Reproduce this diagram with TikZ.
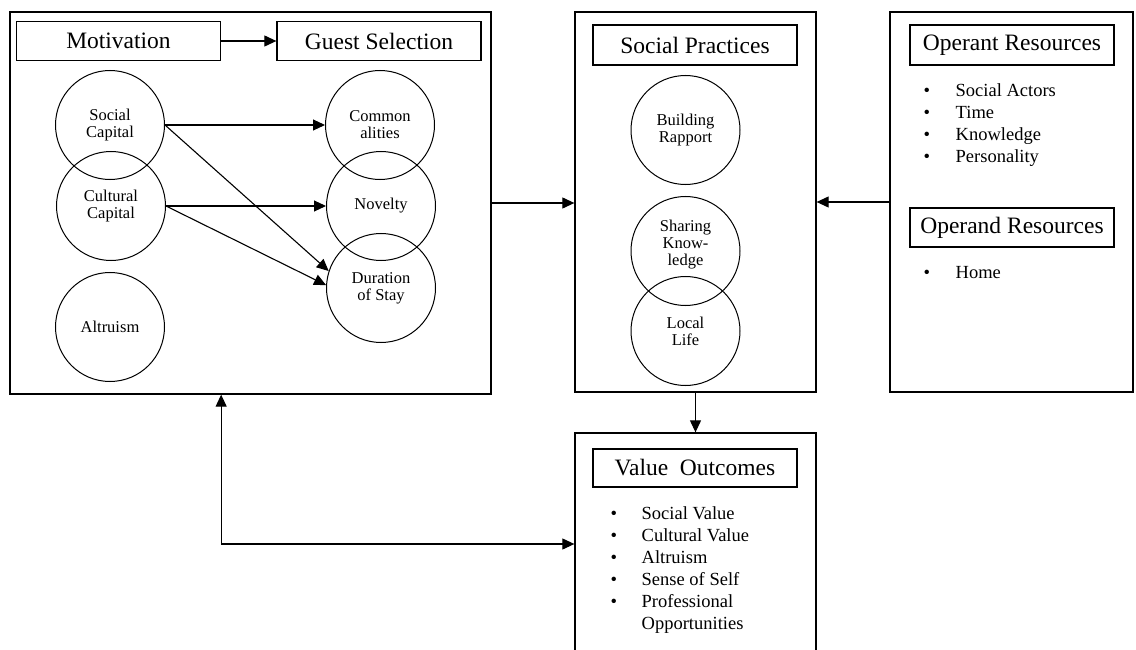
\documentclass[tikz,border=0pt]{standalone}
\usepackage{fontspec}
\setmainfont{Liberation Serif}
\usetikzlibrary{arrows.meta, positioning}

\begin{document}
\begin{tikzpicture}[x=1pt, y=-1pt,
  panel/.style={rectangle, draw, line width=1.3pt, inner sep=0pt},
  heading/.style={rectangle, draw, line width=1.3pt, minimum width=204pt, minimum height=39pt, inner sep=0pt, font=\fontsize{23.5}{28}\selectfont},
  concept/.style={circle, draw, line width=1pt, minimum size=109pt, inner sep=0pt, align=center, font=\fontsize{16.5}{17}\selectfont},
  item/.style={anchor=base west, inner sep=0pt, font=\fontsize{18.5}{22}\selectfont},
  arrow/.style={-{Triangle[length=12pt, width=11pt]}, line width=1.1pt},
  twoway/.style={{Triangle[length=12pt, width=11pt]}-{Triangle[length=12pt, width=11pt]}, line width=1.1pt}
]
  \clip (0,0) rectangle (1136,650);

  \node[panel, minimum width=481pt, minimum height=382pt] (left) at (250.5,203) {};
  \node[panel, minimum width=241pt, minimum height=380pt] (practices) at (695.5,202) {};
  \node[panel, minimum width=243pt, minimum height=380pt] (resources) at (1011.5,202) {};
  \node[panel, minimum width=241pt, minimum height=222pt] (outcomes) at (695.5,544) {};

  \node[heading] (motivation) at (118.5,41) {Motivation};
  \node[heading] (guestsel) at (379,41) {Guest Selection};
  \draw[arrow] (motivation) -- (guestsel);

  \node[concept] (social) at (110,125) {Social\\Capital};
  \node[concept] (cultural) at (111,206) {Cultural\\Capital};
  \node[concept] (altruism) at (110,327) {Altruism};
  \node[concept] (common) at (380,125) {Common\\alities};
  \node[concept] (novelty) at (381,206) {Novelty};
  \node[concept] (duration) at (381,288) {Duration\\of Stay};

  \draw[arrow] (social) -- (common);
  \draw[arrow] (social.east) -- (duration.162);
  \draw[arrow] (cultural) -- (novelty);
  \draw[arrow] (cultural.east) -- (duration.177);

  \node[heading, minimum height=40pt] (practhead) at (695,45) {Social Practices};
  \node[concept] (rapport) at (685.5,130) {Building\\Rapport};
  \node[concept] (sharing) at (685.5,251) {Sharing\\Know-\\ledge\\\mbox{}};
  \node[concept] (local) at (685.5,331) {Local\\Life};

  \node[heading, minimum height=40pt] (operant) at (1012,45) {Operant Resources};
  \foreach \txt [count=\i] in {Social Actors, Time, Knowledge, Personality}
    \node[item] (operant\i) at (923.5, 97+22*\i-22) {\makebox[32pt][l]{\textbullet}\txt};
  \node[heading] (operand) at (1012,227.5) {Operand Resources};
  \node[item] (operand1) at (923.5,278) {\makebox[32pt][l]{\textbullet}Home};

  \node[heading, minimum height=38pt] (valhead) at (695,468) {Value\ \ Outcomes};
  \foreach \txt [count=\i] in {Social Value, Cultural Value, Altruism, Sense of Self, Professional}
    \node[item] (outcome\i) at (610.5, 519+22*\i-22) {\makebox[31pt][l]{\textbullet}\txt};
  \node[item] (outcome6) at (641.5,629) {Opportunities};

  \draw[arrow] (left.east) -- (left.east -| practices.west);
  \draw[arrow] (resources.west) -- (practices.east);
  \draw[arrow] (practices) -- (outcomes);
  \draw[twoway] (motivation.east |- left.south) |- (outcomes.west);
\end{tikzpicture}
\end{document}
